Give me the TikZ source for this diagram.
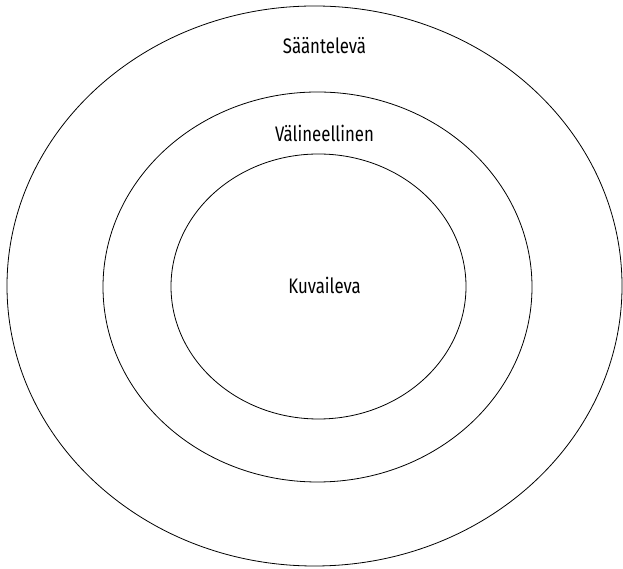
\documentclass[tikz,border=0pt]{standalone}
\usepackage{fontspec}
\newfontfamily\labelfont[FakeStretch=0.8]{Fira Sans}
\usetikzlibrary{shapes.geometric}

\begin{document}
\begin{tikzpicture}[
        x=1pt, y=1pt,
        ring/.style={draw, ellipse, inner sep=0pt, outer sep=0pt, line width=0.8pt},
        ringlabel/.style={font=\labelfont\fontsize{21}{24}\selectfont, anchor=base, inner sep=0pt}
    ]

    \useasboundingbox (0,0) rectangle (623,569);

    % ---- rings ----
    \node[ring, minimum width=615pt, minimum height=560pt] (saantelu) at (314.5,283) {};
    \node[ring, minimum width=429pt, minimum height=390pt] (valine) at (317.5,282) {};
    \node[ring, minimum width=295pt, minimum height=265pt] (kuvaus) at (318.5,282.5) {};

    % ---- labels ----
    \node[ringlabel] (saantelulabel) at (324.5,515) {Sääntelevä};
    \node[ringlabel] (valinelabel) at (324.5,427) {Välineellinen};
    \node[ringlabel] (kuvauslabel) at (324.5,275) {Kuvaileva};

\end{tikzpicture}
\end{document}
